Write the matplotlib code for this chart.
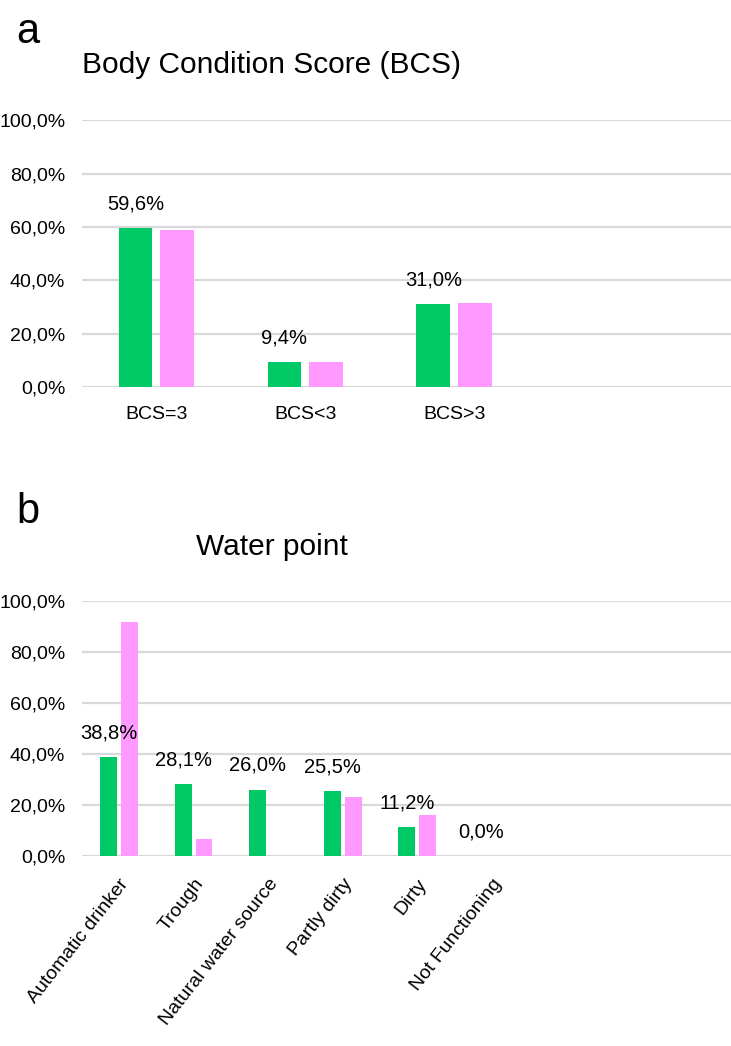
import matplotlib.pyplot as plt
from matplotlib.ticker import FuncFormatter
import numpy as np

plt.rcParams['font.family'] = ['Liberation Sans', 'DejaVu Sans']

# Panel a: Body Condition Score
bcs_cats = ['BCS=3', 'BCS<3', 'BCS>3']
bcs_green = [59.6, 9.4, 31.0]
bcs_pink = [59.0, 9.4, 31.5]
bcs_labels = ['59,6%', '9,4%', '31,0%']

# Panel b: Water point
wp_cats = ['Automatic drinker', 'Trough', 'Natural water source',
           'Partly dirty', 'Dirty', 'Not Functioning']
wp_green = [38.8, 28.1, 26.0, 25.5, 11.2, 0.0]
wp_pink = [91.8, 6.7, 0.0, 23.1, 16.1, 0.0]
wp_labels = ['38,8%', '28,1%', '26,0%', '25,5%', '11,2%', '0,0%']

green = '#00c864'
pink = '#ff99ff'
grid_col = '#d9d9d9'

fig = plt.figure(figsize=(7.31, 10.46), dpi=100)
ax_a = fig.add_axes([0.112, 0.630, 0.888, 0.255])
ax_b = fig.add_axes([0.112, 0.1816, 0.888, 0.2438])

pct = FuncFormatter(lambda v, p: f'{v:.1f}%'.replace('.', ','))


def draw(ax, cats, g, p, labels, width, off, xmax, rot):
    x = np.arange(len(cats))
    ax.bar(x - off, g, width, color=green, zorder=3)
    ax.bar(x + off, p, width, color=pink, zorder=3)
    for xi, v, t in zip(x, g, labels):
        ax.annotate(t, (xi - off, v), xytext=(0, 17.5), textcoords='offset points',
                    ha='center', va='center', fontsize=14.5)
    ax.set_ylim(0, 100)
    ax.set_yticks(range(0, 101, 20))
    ax.yaxis.set_major_formatter(pct)
    ax.set_xlim(-0.5, xmax)
    ax.set_xticks(x)
    if rot:
        ax.set_xticklabels(cats, rotation=52, ha='right', rotation_mode='anchor')
    else:
        ax.set_xticklabels(cats)
    ax.grid(axis='y', color=grid_col, linewidth=1.6, zorder=0)
    for s in ax.spines.values():
        s.set_visible(False)
    ax.tick_params(axis='both', length=0, labelsize=14)
    ax.tick_params(axis='y', pad=12)
    ax.tick_params(axis='x', pad=14)


draw(ax_a, bcs_cats, bcs_green, bcs_pink, bcs_labels, 0.225, 0.14, 3.86, False)
draw(ax_b, wp_cats, wp_green, wp_pink, wp_labels, 0.225, 0.14, 8.21, True)

fig.text(0.372, 1 - 65 / 1046, 'Body Condition Score (BCS)', ha='center', va='center', fontsize=21.5)
fig.text(0.372, 1 - 547 / 1046, 'Water point', ha='center', va='center', fontsize=21.5)
fig.text(0.022, 1 - 32 / 1046, 'a', ha='left', va='center', fontsize=30)
fig.text(0.022, 1 - 512 / 1046, 'b', ha='left', va='center', fontsize=30)

fig.savefig('out.png', dpi=100)
